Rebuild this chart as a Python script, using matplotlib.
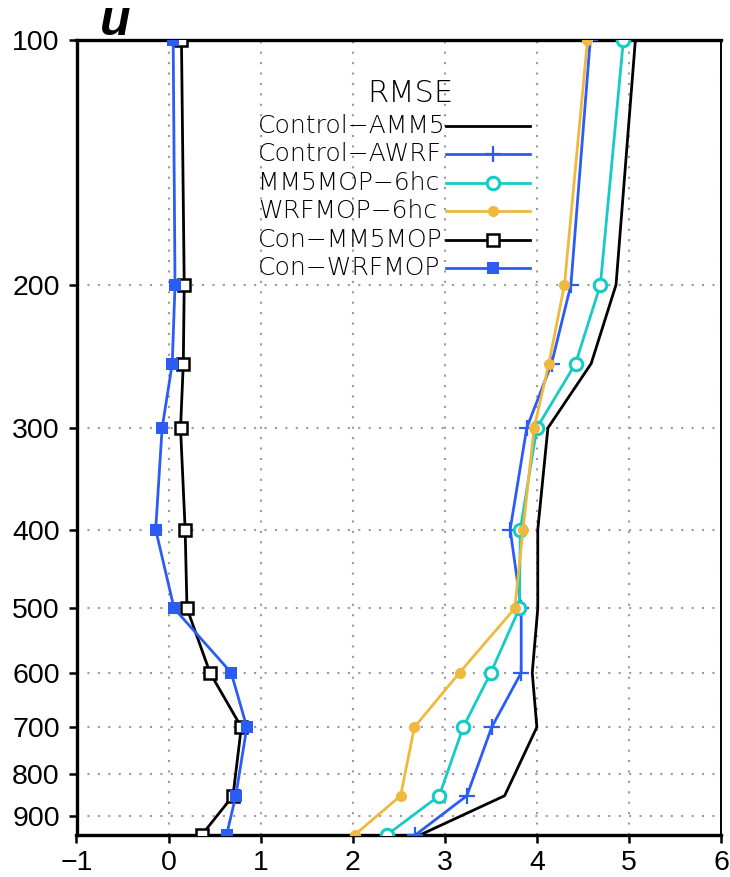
import matplotlib
matplotlib.use("Agg")
import matplotlib.pyplot as plt
import numpy as np

# Pressure levels (hPa)
levels = [100, 200, 250, 300, 400, 500, 600, 700, 850, 950]

# RMSE profiles of u
control_amm5 = [5.07, 4.86, 4.59, 4.12, 4.01, 4.01, 3.95, 4.00, 3.65, 2.73]
control_awrf = [4.58, 4.37, 4.16, 3.89, 3.71, 3.83, 3.83, 3.51, 3.24, 2.68]
mm5mop_6hc = [4.94, 4.69, 4.42, 4.00, 3.82, 3.81, 3.50, 3.20, 2.94, 2.37]
wrfmop_6hc = [4.55, 4.30, 4.13, 3.97, 3.85, 3.76, 3.16, 2.67, 2.52, 2.02]
con_mm5mop = [0.14, 0.17, 0.16, 0.13, 0.18, 0.20, 0.45, 0.79, 0.70, 0.36]
con_wrfmop = [0.05, 0.07, 0.04, -0.07, -0.14, 0.06, 0.68, 0.85, 0.73, 0.63]

series_names = ["Control\u2212AMM5", "Control\u2212AWRF", "MM5MOP\u22126hc",
                "WRFMOP\u22126hc", "Con\u2212MM5MOP", "Con\u2212WRFMOP"]
series_values = [control_amm5, control_awrf, mm5mop_6hc, wrfmop_6hc,
                 con_mm5mop, con_wrfmop]

x_ticks = [-1, 0, 1, 2, 3, 4, 5, 6]
y_ticks = [100, 200, 300, 400, 500, 600, 700, 800, 900]

BLUE = "#2b5cf6"
CYAN = "#16cbc6"
ORANGE = "#eeb93c"

styles = [
    dict(color="black", marker=None),
    dict(color=BLUE, marker="+", ms=12, mew=1.6, mfc=BLUE, mec=BLUE),
    dict(color=CYAN, marker="o", ms=9, mew=2.2, mfc="white", mec=CYAN),
    dict(color=ORANGE, marker="o", ms=8, mew=0, mfc=ORANGE, mec=ORANGE),
    dict(color="black", marker="s", ms=9, mew=1.8, mfc="white", mec="black"),
    dict(color=BLUE, marker="s", ms=9, mew=0, mfc=BLUE, mec=BLUE),
]

plt.rcParams["font.family"] = ["Liberation Sans", "DejaVu Sans"]

fig = plt.figure(figsize=(7.30, 8.77), dpi=100)
ax = fig.add_axes([76.5 / 730, 1 - 835 / 877, (721 - 76.5) / 730, (835 - 40) / 877])

for name, vals, st in zip(series_names, series_values, styles):
    kw = dict(st)
    color = kw.pop("color")
    ax.plot(vals, levels, color=color, lw=2.0, zorder=3, **kw)

ax.set_yscale("log")
ax.set_ylim(950, 100)
ax.set_xlim(-1, 6)
ax.set_yticks(y_ticks)
ax.set_yticklabels([str(t) for t in y_ticks])
ax.yaxis.set_minor_locator(matplotlib.ticker.NullLocator())
ax.set_xticks(x_ticks)
ax.set_xticklabels([("\u2212" + str(-t)) if t < 0 else str(t) for t in x_ticks])

ax.grid(True, color="#9a9a9a", linestyle=(0, (1, 4)), linewidth=1.5, zorder=1)
ax.set_axisbelow(True)

ax.tick_params(axis="both", direction="out", length=6, width=1.8,
               labelsize=20.5, colors="black")
ax.tick_params(axis="y", pad=6)
ax.tick_params(axis="x", pad=5)

for side in ["left", "bottom", "top"]:
    ax.spines[side].set_linewidth(2.4)
ax.spines["right"].set_linewidth(1.4)

# title in the upper-left corner
fig.text(100 / 730, 1 - 35 / 877, "u", fontsize=36, fontweight="bold",
         fontstyle="italic", ha="left", va="baseline",
         family=["Liberation Sans", "DejaVu Sans"])

# key drawn inside the axes
to_ax_x = lambda px: (px - 76.5) / (721 - 76.5)
to_ax_y = lambda py: (835 - py) / (835 - 40)
key_font = dict(family=["DejaVu Sans"], fontweight="light", color="black")
ax.text(to_ax_x(410), to_ax_y(94), "RMSE", transform=ax.transAxes,
        ha="center", va="center", zorder=5, fontsize=22, **key_font)
row_y = [126, 154.4, 182.8, 211.2, 239.6, 268]
for name, st, ry in zip(series_names, styles, row_y):
    kw = dict(st)
    color = kw.pop("color")
    ax.text(to_ax_x(258), to_ax_y(ry), name, transform=ax.transAxes,
            ha="left", va="center", zorder=5, fontsize=18, **key_font)
    ax.plot([to_ax_x(446), to_ax_x(530)], [to_ax_y(ry)] * 2,
            transform=ax.transAxes, color=color, lw=2.0, zorder=5, clip_on=False)
    if kw.get("marker"):
        ax.plot([to_ax_x(493)], [to_ax_y(ry)], transform=ax.transAxes,
                color=color, lw=0, zorder=6, clip_on=False, **kw)

fig.savefig("out.png", dpi=100)
